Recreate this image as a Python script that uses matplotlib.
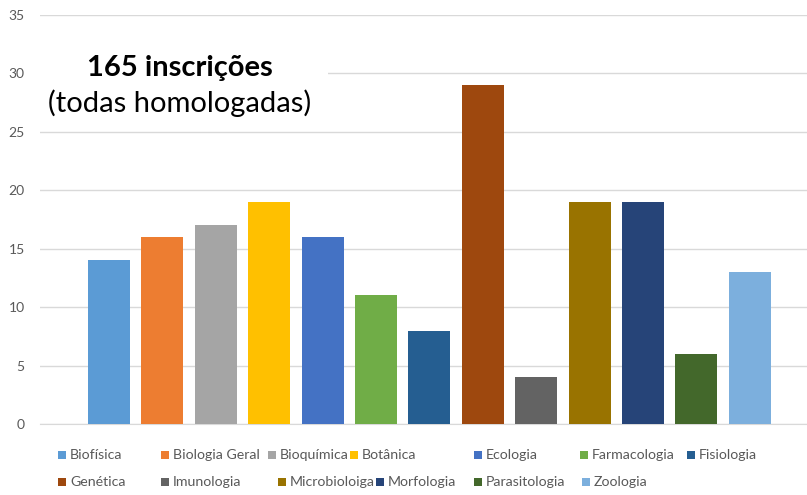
import matplotlib
matplotlib.use("Agg")
import matplotlib.pyplot as plt
from matplotlib.patches import Rectangle

categories = ["Biofísica", "Biologia Geral", "Bioquímica", "Botânica", "Ecologia",
              "Farmacologia", "Fisiologia", "Genética", "Imunologia", "Microbioloiga",
              "Morfologia", "Parasitologia", "Zoologia"]
values = [14, 16, 17, 19, 16, 11, 8, 29, 4, 19, 19, 6, 13]
colors = ["#5B9BD5", "#ED7D31", "#A5A5A5", "#FFC000", "#4472C4", "#70AD47", "#255E91",
          "#9E480E", "#636363", "#997300", "#264478", "#43682B", "#7CAFDD"]
yticks = [0, 5, 10, 15, 20, 25, 30, 35]

plt.rcParams['font.family'] = ['Lato', 'DejaVu Sans']

W, H = 807, 495
fig = plt.figure(figsize=(W / 100, H / 100), dpi=100)
ax = fig.add_axes([40 / W, (H - 424) / H, 1 - 40 / W, (424 - 15) / H])

xs = list(range(len(values)))
ax.bar(xs, values, width=0.79, color=colors, zorder=3)
ax.set_xlim((40 - 109) / 53.4, (807 - 109) / 53.4)
ax.set_ylim(0, 35)
ax.set_yticks(yticks)
ax.set_yticklabels([str(t) for t in yticks], color="#595959", fontsize=10)
ax.tick_params(axis='y', length=0, pad=11)
ax.set_xticks([])
ax.grid(axis='y', color="#D9D9D9", linewidth=1, zorder=0)
for s in ["top", "right", "left"]:
    ax.spines[s].set_visible(False)
ax.spines["bottom"].set_color("#D9D9D9")

# white box behind annotation
fig.patches.append(Rectangle((38 / W, (H - 124) / H), (328 - 38) / W, 84 / H,
                             transform=fig.transFigure, facecolor="white",
                             edgecolor="none", zorder=5))
fig.text(180 / W, (H - 68) / H, "165 inscrições", ha="center", va="center",
         fontsize=21, fontweight="bold", color="black", zorder=6)
fig.text(180 / W, (H - 103) / H, "(todas homologadas)", ha="center", va="center",
         fontsize=21, color="black", zorder=6)

# legend (two rows, manual placement like Excel)
leg_x = [58, 161, 268, 350, 474, 580, 687, 58, 161, 278, 376, 474, 582]
leg_y = [455] * 7 + [482] * 6
sq = 8
for lab, col, lx, ly in zip(categories, colors, leg_x, leg_y):
    fig.patches.append(Rectangle((lx / W, (H - ly - sq / 2) / H), sq / W, sq / H,
                                 transform=fig.transFigure, facecolor=col,
                                 edgecolor="none"))
    fig.text((lx + sq + 4) / W, (H - ly) / H, lab, ha="left", va="center",
             fontsize=10.2, color="#595959")

fig.savefig("out.png", dpi=100)
